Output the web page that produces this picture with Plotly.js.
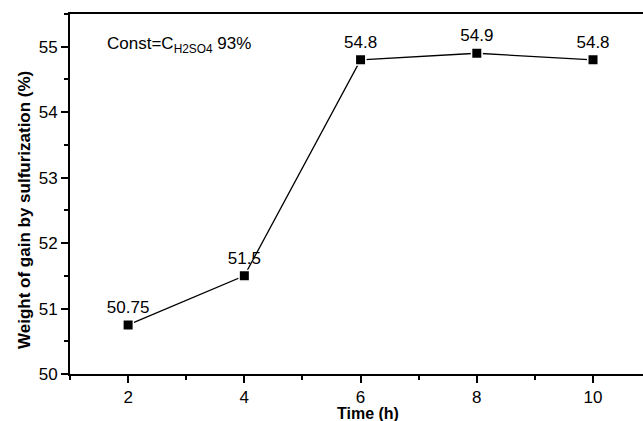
<!DOCTYPE html>
<html>
<head>
<meta charset="utf-8">
<script src="https://cdn.plot.ly/plotly-3.0.1.min.js"></script>
<style>html,body{margin:0;padding:0;background:#fff;}#chart{width:643px;height:421px;}</style>
</head>
<body>
<div id="chart"></div>
<script>
var timeHours = [2, 4, 6, 8, 10];
var weightGain = [50.75, 51.5, 54.8, 54.9, 54.8];
var pointLabels = ["50.75", "51.5", "54.8", "54.9", "54.8"];
var xMinorTicks = [1, 3, 5, 7, 9];
var xTitle = "Time (h)";
var yTitle = "Weight of gain by sulfurization (%)";
var noteText = "Const=C<sub>H2SO4</sub> 93%";

var font = "Arial, 'Liberation Sans', Helvetica, sans-serif";

var trace = {
  x: timeHours,
  y: weightGain,
  mode: "lines+markers+text",
  text: pointLabels,
  textposition: "top center",
  textfont: {family: font, size: 17, color: "#000"},
  line: {color: "#000", width: 1.3},
  marker: {symbol: "square", size: 10.5, color: "#000", line: {color: "#fff", width: 1.5}},
  cliponaxis: false,
  hoverinfo: "none"
};

var layout = {
  width: 643,
  height: 421,
  margin: {l: 70, r: 0, t: 14, b: 47, pad: 0},
  paper_bgcolor: "#fff",
  plot_bgcolor: "#fff",
  showlegend: false,
  font: {family: font, color: "#000"},
  xaxis: {
    range: [1, 10.86],
    tick0: 0, dtick: 2,
    ticks: "outside", ticklen: 7, tickwidth: 2, tickcolor: "#000",
    minor: {tickmode: "array", tickvals: xMinorTicks, ticks: "outside", ticklen: 4, tickwidth: 2, tickcolor: "#000", showgrid: false},
    showline: true, linecolor: "#000", linewidth: 2, mirror: true,
    showgrid: false, zeroline: false,
    tickfont: {family: font, size: 17, color: "#000"}
  },
  yaxis: {
    range: [50, 55.5],
    tick0: 50, dtick: 1,
    ticks: "outside", ticklen: 7, tickwidth: 2, tickcolor: "#000",
    minor: {dtick: 0.5, ticks: "outside", ticklen: 4, tickwidth: 2, tickcolor: "#000", showgrid: false},
    showline: true, linecolor: "#000", linewidth: 2, mirror: false,
    showgrid: false, zeroline: false,
    tickfont: {family: font, size: 17, color: "#000"}
  },
  annotations: [
    {text: noteText, xref: "paper", yref: "paper", x: (105 - 70) / 573, y: (421 - 47 - 44.5) / 360,
     xanchor: "left", yanchor: "middle", showarrow: false,
     font: {family: font, size: 17, color: "#000"}},
    {text: "<b>" + xTitle + "</b>", xref: "paper", yref: "paper", x: (367.5 - 70) / 573, y: -(413 - 374) / 360,
     xanchor: "center", yanchor: "middle", showarrow: false,
     font: {family: font, size: 16, color: "#000"}},
    {text: "<b>" + yTitle + "</b>", xref: "paper", yref: "paper", x: -(70 - 24) / 573, y: (374 - 210) / 360,
     xanchor: "center", yanchor: "middle", textangle: -90, showarrow: false,
     font: {family: font, size: 17, color: "#000"}}
  ]
};

Plotly.newPlot("chart", [trace], layout, {displayModeBar: false, staticPlot: true});
</script>
</body>
</html>
